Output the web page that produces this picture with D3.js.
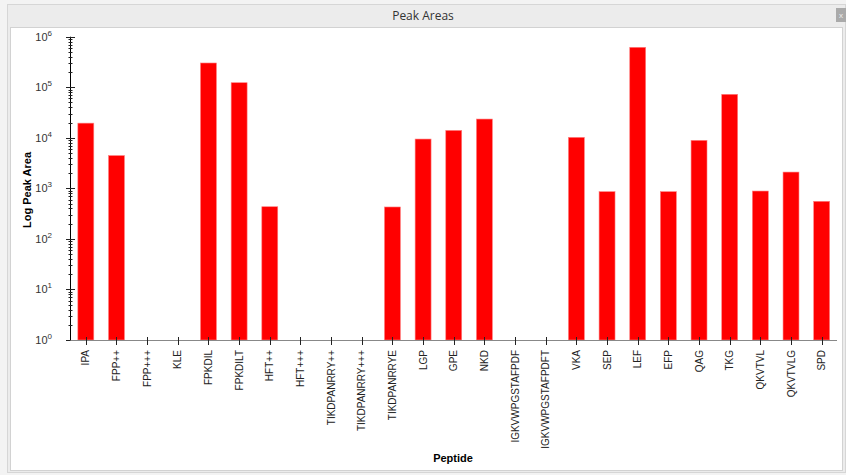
<!DOCTYPE html>
<html>
<head>
<meta charset="utf-8">
<script src="https://cdn.jsdelivr.net/npm/d3@7"></script>
<style>
  html, body { margin: 0; padding: 0; background: #ffffff; }
  svg { display: block; }
</style>
</head>
<body>
<svg id="chart" width="846" height="475"></svg>
<script>
// Peptide names along the x axis
const peptides = [
  "IPA", "FPP++", "FPP+++", "KLE", "FPKDIL", "FPKDILT", "HFT++", "HFT+++",
  "TIKDPANRRY++", "TIKDPANRRY+++", "TIKDPANRRYE", "LGP", "GPE", "NKD",
  "IGKVWPGSTAFPDF", "IGKVWPGSTAFPDFT", "VKA", "SEP", "LEF", "EFP", "QAG",
  "TKG", "QKVTVL", "QKVTVLG", "SPD"
];
// Peak area per peptide (0 = not detected, no bar)
const peakAreas = [
  19500, 4450, 0, 0, 302000, 123000, 433, 0,
  0, 0, 428, 9450, 14000, 23500,
  0, 0, 10200, 860, 617000, 860, 8900,
  72500, 885, 2100, 554
];
// Decade exponents shown on the log axis
const decadeExponents = [0, 1, 2, 3, 4, 5, 6];

(function () {
  const svg = d3.select("#chart");
  const W = 846, H = 475;

  // Window frame
  svg.append("rect").attr("x", 0).attr("y", 0).attr("width", W).attr("height", H).attr("fill", "#f3f3f3");
  svg.append("rect").attr("x", 7.5).attr("y", 4.5).attr("width", 838).attr("height", 468)
    .attr("fill", "#ececec").attr("stroke", "#d6d6d6");
  svg.append("rect").attr("x", 10.5).attr("y", 27.5).attr("width", 832).attr("height", 443)
    .attr("fill", "#ffffff").attr("stroke", "#d2d2d2");
  svg.append("text").attr("x", 423).attr("y", 20).attr("text-anchor", "middle")
    .attr("font-family", "'Open Sans', 'Noto Sans', sans-serif").attr("font-size", 12)
    .attr("fill", "#333").text("Peak Areas");
  // close button
  svg.append("rect").attr("x", 836).attr("y", 8).attr("width", 10).attr("height", 14).attr("fill", "#aaaaaa");
  svg.append("text").attr("x", 841).attr("y", 18).attr("text-anchor", "middle")
    .attr("font-family", "Arial, 'Liberation Sans', sans-serif").attr("font-size", 8)
    .attr("fill", "#eee").text("x");

  // Plot geometry
  const plotLeft = 70.5, plotRight = 837, plotTop = 36.7, plotBottom = 340;

  const x = d3.scaleBand().domain(peptides).range([plotLeft, plotRight])
    .paddingInner(0.48).paddingOuter(0.24);
  const y = d3.scaleLog().domain([1, 1e6]).range([plotBottom, plotTop]);

  // Bars
  svg.append("g").selectAll("rect")
    .data(peptides.map((p, i) => ({ p, v: peakAreas[i] })).filter(d => d.v > 0))
    .join("rect")
    .attr("x", d => x(d.p))
    .attr("width", x.bandwidth())
    .attr("y", d => y(d.v))
    .attr("height", d => plotBottom - y(d.v))
    .attr("fill", "#ff0000")
    .attr("stroke", "#ff8080")
    .attr("stroke-width", 0.6);

  // Y axis: line, major and minor ticks crossing the axis
  const isDecade = d => Math.abs(Math.log10(d) - Math.round(Math.log10(d))) < 1e-9;
  const yg = svg.append("g");
  yg.append("line").attr("x1", plotLeft).attr("x2", plotLeft).attr("y1", plotTop).attr("y2", plotBottom)
    .attr("stroke", "#000").attr("stroke-width", 1);
  yg.selectAll("line.tick").data(y.ticks()).join("line")
    .attr("class", "tick")
    .attr("x1", d => isDecade(d) ? plotLeft - 4.5 : plotLeft - 2)
    .attr("x2", d => isDecade(d) ? plotLeft + 4.5 : plotLeft + 2)
    .attr("y1", d => Math.round(y(d)) + 0.5)
    .attr("y2", d => Math.round(y(d)) + 0.5)
    .attr("stroke", "#222").attr("stroke-width", 1);

  // Decade labels 10^n
  const lab = yg.selectAll("text.dec").data(decadeExponents).join("text")
    .attr("class", "dec")
    .attr("x", 52).attr("y", d => y(Math.pow(10, d)) + 4)
    .attr("text-anchor", "end")
    .attr("font-family", "Arial, 'Liberation Sans', sans-serif").attr("font-size", 11)
    .attr("fill", "#333");
  lab.append("tspan").text("10");
  lab.append("tspan").attr("dy", -5).attr("font-size", 8).text(d => d);

  // X axis baseline and ticks
  const xg = svg.append("g");
  xg.append("line").attr("x1", plotLeft).attr("x2", plotRight).attr("y1", plotBottom + 0.5).attr("y2", plotBottom + 0.5)
    .attr("stroke", "#888").attr("stroke-width", 1.2);
  xg.selectAll("line.xt").data(peptides).join("line")
    .attr("class", "xt")
    .attr("x1", d => Math.round(x(d) + x.bandwidth() / 2) + 0.5)
    .attr("x2", d => Math.round(x(d) + x.bandwidth() / 2) + 0.5)
    .attr("y1", plotBottom - 3).attr("y2", plotBottom + 5)
    .attr("stroke", "#222");
  xg.selectAll("text").data(peptides).join("text")
    .attr("transform", d => `translate(${x(d) + x.bandwidth() / 2 + 3.5},350) rotate(-90)`)
    .attr("text-anchor", "end")
    .attr("font-family", "Arial, 'Liberation Sans', sans-serif").attr("font-size", 10)
    .attr("fill", "#222")
    .text(d => d);

  // Axis titles
  svg.append("text")
    .attr("transform", "translate(31,190) rotate(-90)")
    .attr("text-anchor", "middle")
    .attr("font-family", "Arial, 'Liberation Sans', sans-serif").attr("font-size", 11)
    .attr("font-weight", "bold").attr("fill", "#000")
    .text("Log Peak Area");
  svg.append("text")
    .attr("x", 453).attr("y", 462)
    .attr("text-anchor", "middle")
    .attr("font-family", "Arial, 'Liberation Sans', sans-serif").attr("font-size", 11)
    .attr("font-weight", "bold").attr("fill", "#000")
    .text("Peptide");
})();
</script>
</body>
</html>
